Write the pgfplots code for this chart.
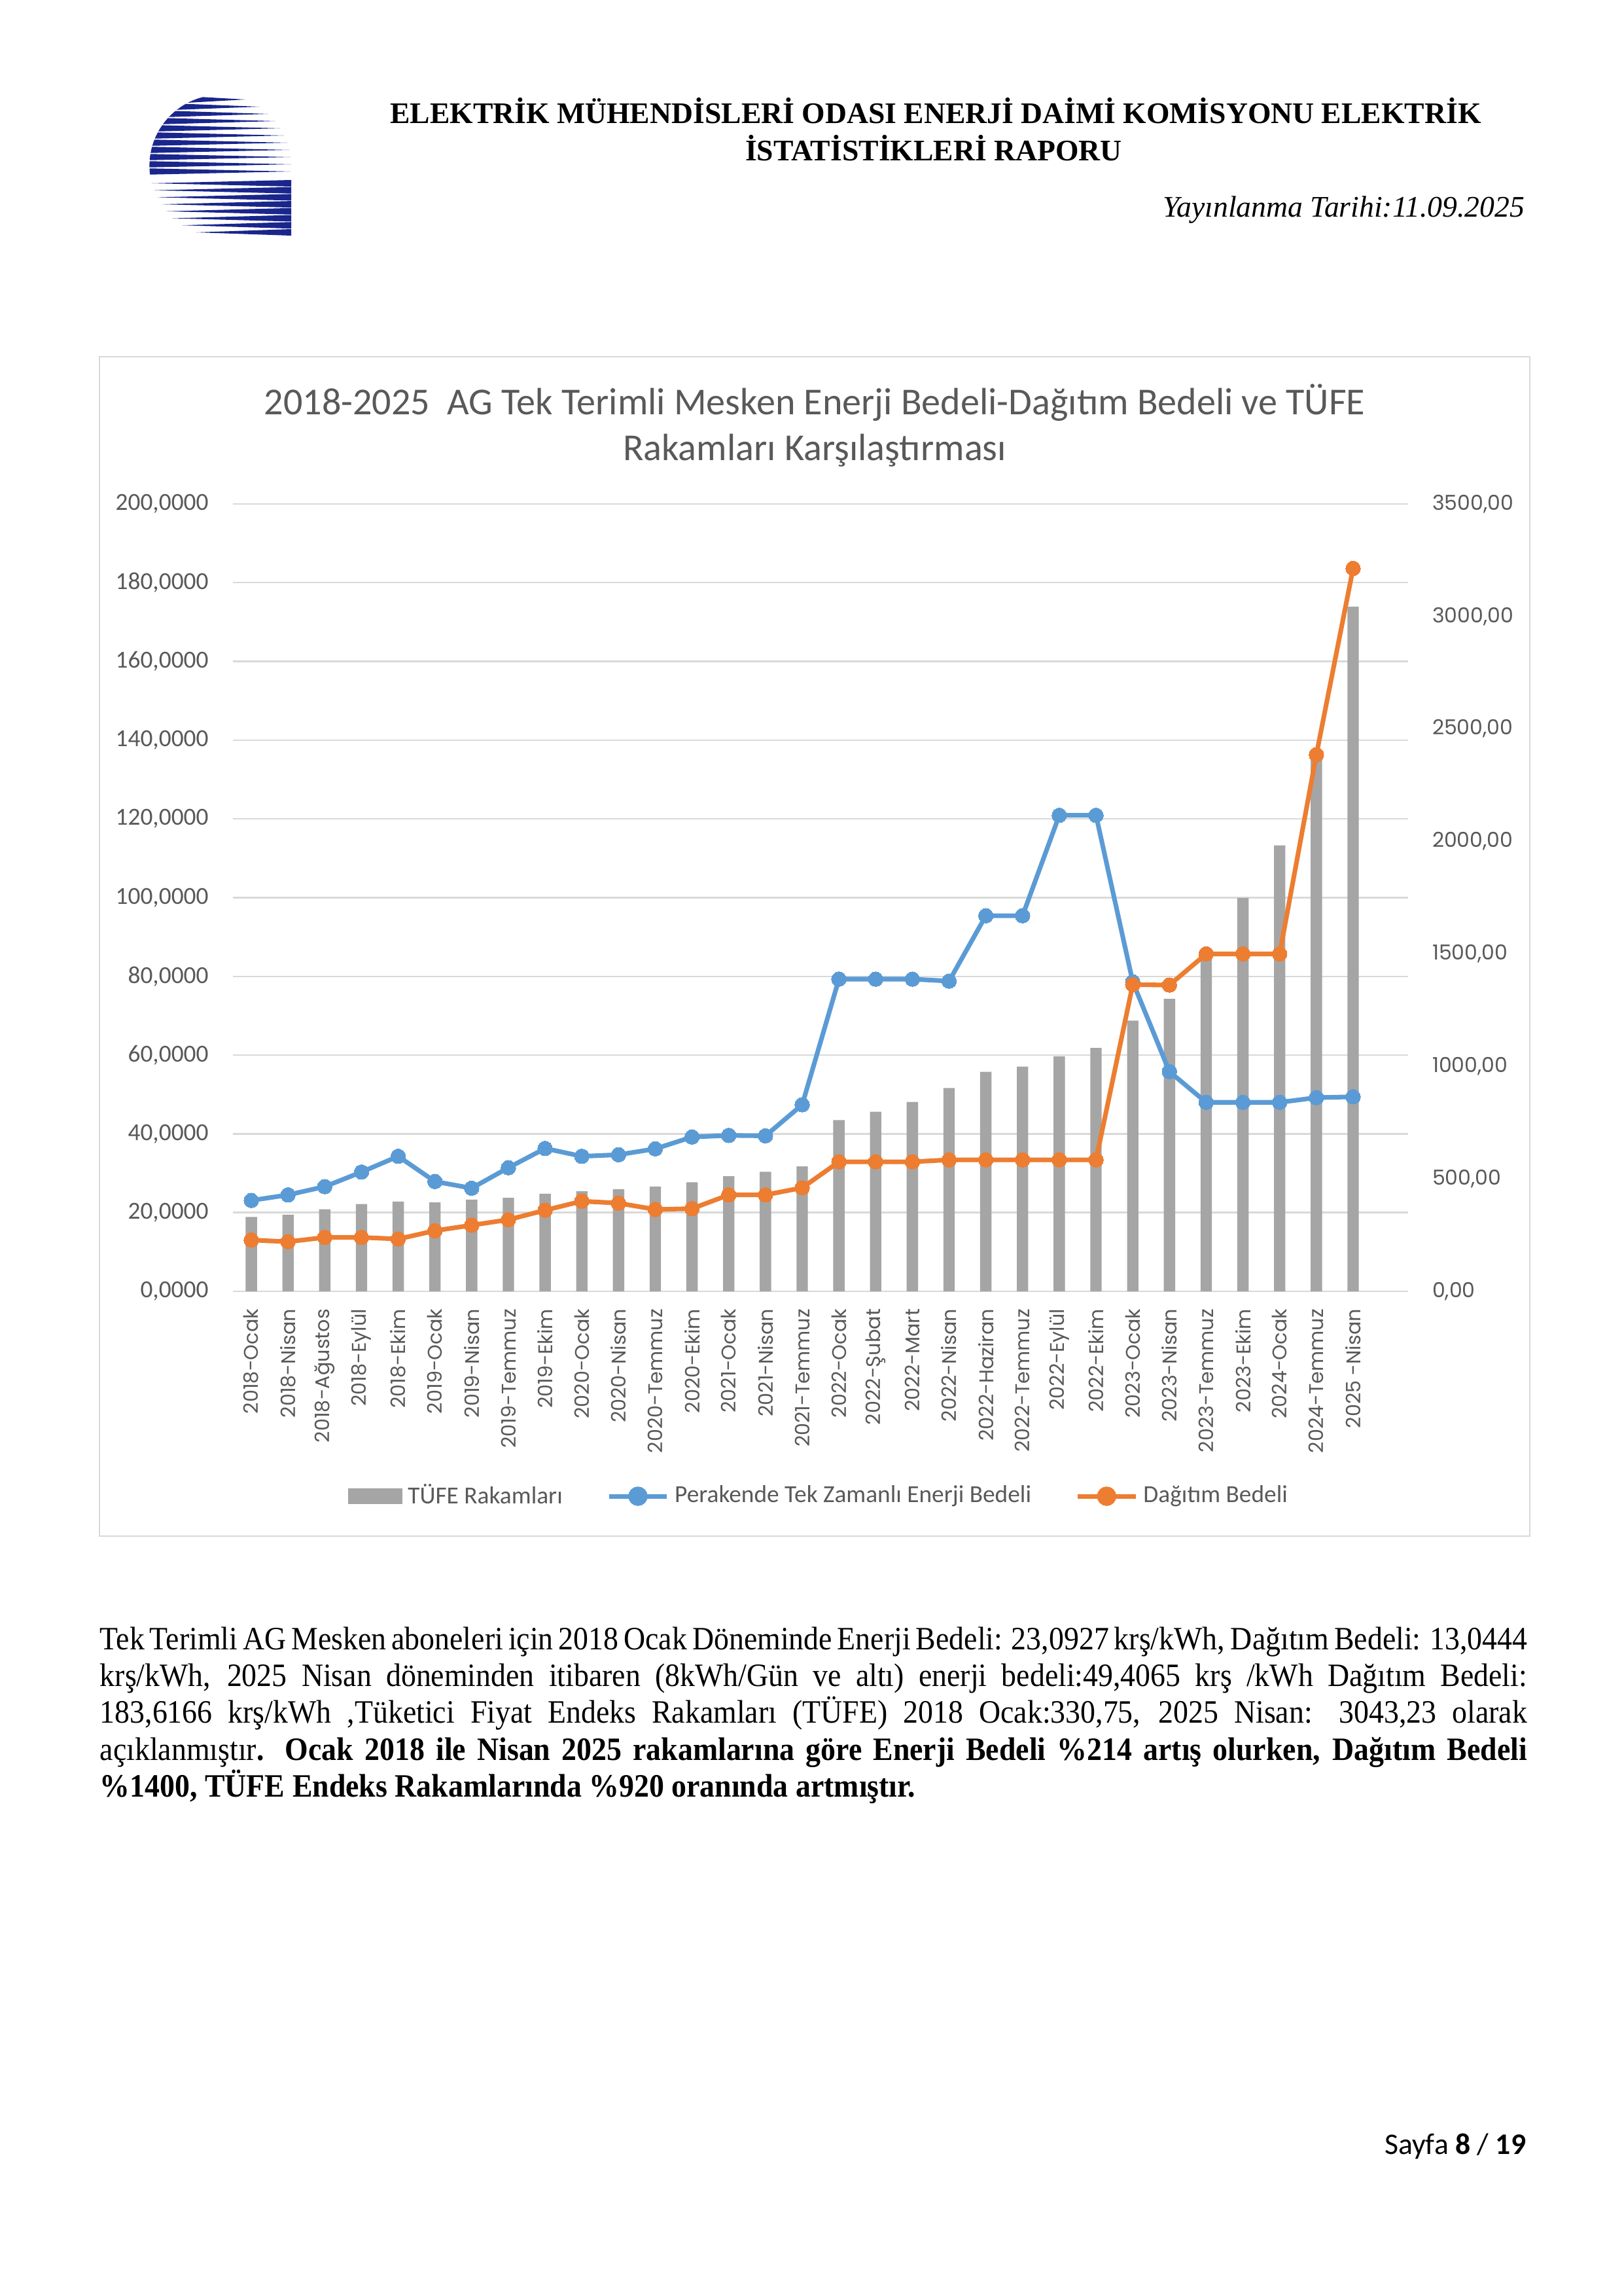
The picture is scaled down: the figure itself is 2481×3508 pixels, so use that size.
\documentclass[border=0pt]{standalone}
\usepackage{fontspec}
\setmainfont{Liberation Serif}
\newfontfamily\parafont[FakeStretch=0.92]{Liberation Serif}
\newfontfamily\carlito{Carlito}
\newfontfamily\poppins{Poppins}
\usepackage{pgfplots}
\pgfplotsset{compat=1.18}
\usepackage{pgfplotstable}

\definecolor{lineblue}{HTML}{5B9BD5}
\definecolor{lineorange}{HTML}{ED7D31}
\definecolor{bargray}{HTML}{A5A5A5}
\definecolor{gridgray}{HTML}{D9D9D9}
\definecolor{textgray}{HTML}{595959}
\definecolor{logoblue}{RGB}{26,38,140}

\pgfplotstableread{
x blue orange tufe
0 23.09 13.04 330.75
1 24.5 12.6 341
2 26.6 13.7 365
3 30.3 13.7 388
4 34.3 13.3 399
5 27.9 15.4 395
6 26.2 16.8 408
7 31.4 18.2 416
8 36.3 20.6 434
9 34.3 22.9 445
10 34.7 22.4 454
11 36.2 20.8 466
12 39.2 21.0 485
13 39.6 24.5 512
14 39.5 24.5 531
15 47.4 26.3 555
16 79.3 32.9 761
17 79.3 32.9 798
18 79.3 32.9 842
19 78.8 33.4 904
20 95.4 33.4 976
21 95.4 33.4 999
22 120.9 33.4 1045
23 120.9 33.4 1082
24 78.6 77.9 1203
25 55.8 77.8 1300
26 48.0 85.7 1480
27 48.0 85.7 1749
28 48.0 85.7 1982
29 49.2 136.3 2380
30 49.41 183.62 3043.23
}\datatable

\pgfplotsset{
  basestyle/.style={
    at={(AXO)}, anchor=south west, scale only axis,
    width=152.02mm, height=101.83mm,
    xmin=-0.5, xmax=31.5,
    axis line style={draw=none},
    major tick length=0pt,
    /pgf/number format/assume math mode=true,
  },
}

\begin{document}
\begin{tikzpicture}
\begin{scope}[x=0.084643mm, y=-0.084643mm]
  % page
  \fill[white] (0,0) rectangle (2481,3508);
  % logo
  \begin{scope}
    \clip (336.7,253.3) circle (108.3);
    \foreach \yy/\xl/\xr in {152/298.4/375.0, 163/276.9/396.5, 174/262.9/410.5,
        185/252.7/420.7, 196/244.8/428.6, 207/238.8/434.6, 218/234.3/439.1,
        229/231.2/442.2, 240/229.2/444.2, 251/228.4/445.0, 262/228.8/444.6}{
      \fill[logoblue] (\xl-12,\yy-5) -- (\xr,\yy) -- (\xl-12,\yy+5) -- cycle;
    }
  \end{scope}
  \foreach \yy/\xt in {280/231.7, 290.7/235.2, 301.4/239.8, 312.1/246.1,
      322.8/254.1, 333.5/263.7, 344.2/278.0, 355/299.5}{
    \fill[logoblue] (445,\yy-5) -- (445,\yy+5) -- (\xt,\yy) -- cycle;
  }
  % header
  \node[anchor=base, inner sep=0pt] at (1430,188)
    {\fontsize{11}{13}\selectfont\bfseries ELEKTRİK MÜHENDİSLERİ ODASI ENERJİ DAİMİ KOMİSYONU ELEKTRİK};
  \node[anchor=base, inner sep=0pt] at (1427,245)
    {\fontsize{11}{13}\selectfont\bfseries İSTATİSTİKLERİ RAPORU};
  \node[anchor=base east, inner sep=0pt] at (2331,331)
    {\fontsize{11}{13}\selectfont\itshape Yayınlanma Tarihi:11.09.2025};
  % chart box
  \fill[white] (152,545) rectangle (2338,2347);
  \draw[gridgray, line width=0.7pt] (152,545) rectangle (2338,2347);
  % chart title
  \node[anchor=base, inner sep=0pt, text=textgray] at (1245,633)
    {\carlito\fontsize{14}{17}\selectfont 2018-2025\ \ AG Tek Terimli Mesken Enerji Bedeli-Dağıtım Bedeli ve TÜFE};
  \node[anchor=base, inner sep=0pt, text=textgray] at (1245,703)
    {\carlito\fontsize{14}{17}\selectfont Rakamları Karşılaştırması};
  % paragraph
  \node[anchor=base west, inner sep=0pt] at (152,2520)
    {\parafont\fontsize{12}{14}\selectfont\makebox[184.6mm][s]{Tek Terimli AG Mesken aboneleri için 2018 Ocak Döneminde Enerji Bedeli: 23,0927 krş/kWh, Dağıtım Bedeli: 13,0444}};
  \node[anchor=base west, inner sep=0pt] at (152,2576)
    {\parafont\fontsize{12}{14}\selectfont\makebox[184.6mm][s]{krş/kWh, 2025 Nisan döneminden itibaren (8kWh/Gün ve altı) enerji bedeli:49,4065 krş /kWh Dağıtım Bedeli:}};
  \node[anchor=base west, inner sep=0pt] at (152,2632.5)
    {\parafont\fontsize{12}{14}\selectfont\makebox[184.6mm][s]{183,6166 krş/kWh ,Tüketici Fiyat Endeks Rakamları (TÜFE) 2018 Ocak:330,75, 2025 Nisan: 3043,23 olarak}};
  \node[anchor=base west, inner sep=0pt] at (152,2689)
    {\parafont\fontsize{12}{14}\selectfont\makebox[184.6mm][s]{açıklanmıştır\textbf{. Ocak 2018 ile Nisan 2025 rakamlarına göre Enerji Bedeli \%214 artış olurken, Dağıtım Bedeli}}};
  \node[anchor=base west, inner sep=0pt] at (152,2745)
    {\parafont\fontsize{12}{14}\selectfont\textbf{\%1400, TÜFE Endeks Rakamlarında \%920 oranında artmıştır.}};
  % page number
  \node[anchor=base east, inner sep=0pt] at (2333,3291)
    {\carlito\fontsize{11}{13}\selectfont Sayfa \textbf{8} / \textbf{19}};
  \coordinate (AXO) at (356,1973);
\end{scope}

% axis 1: grid, left ticks, category labels
\begin{axis}[basestyle,
  ymin=0, ymax=200, ytick={0,20,...,200},
  ymajorgrids, grid style={draw=gridgray, line width=0.6pt},
  xtick={0,...,30},
  xticklabels={2018-Ocak, 2018-Nisan, 2018-Ağustos, 2018-Eylül, 2018-Ekim, 2019-Ocak, 2019-Nisan, 2019-Temmuz, 2019-Ekim, 2020-Ocak, 2020-Nisan, 2020-Temmuz, 2020-Ekim, 2021-Ocak, 2021-Nisan, 2021-Temmuz, 2022-Ocak, 2022-Şubat, 2022-Mart, 2022-Nisan, 2022-Haziran, 2022-Temmuz, 2022-Eylül, 2022-Ekim, 2023-Ocak, 2023-Nisan, 2023-Temmuz, 2023-Ekim, 2024-Ocak, 2024-Temmuz, 2025 -Nisan},
  xticklabel style={font=\poppins\fontsize{7.3}{8}\selectfont, text=textgray, inner sep=0pt, yshift=-2.2mm, rotate=90, anchor=east},
  yticklabel style={font=\carlito\fontsize{9}{10}\selectfont, text=textgray, anchor=east, inner sep=0pt, xshift=-3.1mm},
  y tick label style={/pgf/number format/.cd, fixed, fixed zerofill, precision=4, use comma, 1000 sep={}},
]
\addplot[draw=none, forget plot] coordinates {(0,0)};
\end{axis}

% axis 2: bars on right axis
\begin{axis}[basestyle,
  ymin=0, ymax=3500, ytick={0,500,...,3500},
  yticklabel pos=right, xtick=\empty,
  yticklabel style={font=\poppins\fontsize{7.6}{9}\selectfont, text=textgray, anchor=west, inner sep=0pt, xshift=3.05mm},
  y tick label style={/pgf/number format/.cd, fixed, fixed zerofill, precision=2, use comma, 1000 sep={}},
]
\addplot[ybar, bar width=1.47mm, bar shift=0pt, fill=bargray, draw=none] table[x=x, y=tufe] {\datatable};
\end{axis}

% axis 3: lines and legend
\begin{axis}[basestyle,
  ymin=0, ymax=200, xtick=\empty, ytick=\empty,
  legend columns=3,
  legend cell align=left,
  legend style={at={(0.5,-0.2602)}, anchor=center, draw=none, fill=none,
    font=\carlito\fontsize{9}{11}\selectfont, text=textgray,
    /tikz/every even column/.append style={column sep=5.0mm}},
]
\addlegendimage{legend image code/.code={\fill[bargray] (0mm,-0.95mm) rectangle (6.9mm,0.95mm);}}
\addlegendentry{TÜFE Rakamları}
\addplot[color=lineblue, line width=1.7pt, mark=*, mark size=2.7pt,
  mark options={solid, fill=lineblue, draw=lineblue, line width=0pt},
  legend image code/.code={\draw[lineblue, line width=1.7pt] (0mm,0mm) -- (7.5mm,0mm); \fill[lineblue] (3.75mm,0mm) circle (2.7pt);}]
  table[x=x, y=blue] {\datatable};
\addlegendentry{Perakende Tek Zamanlı Enerji Bedeli}
\addplot[color=lineorange, line width=1.7pt, mark=*, mark size=2.7pt,
  mark options={solid, fill=lineorange, draw=lineorange, line width=0pt},
  legend image code/.code={\draw[lineorange, line width=1.7pt] (0mm,0mm) -- (7.5mm,0mm); \fill[lineorange] (3.75mm,0mm) circle (2.7pt);}]
  table[x=x, y=orange] {\datatable};
\addlegendentry{Dağıtım Bedeli}
\end{axis}
\end{tikzpicture}
\end{document}
